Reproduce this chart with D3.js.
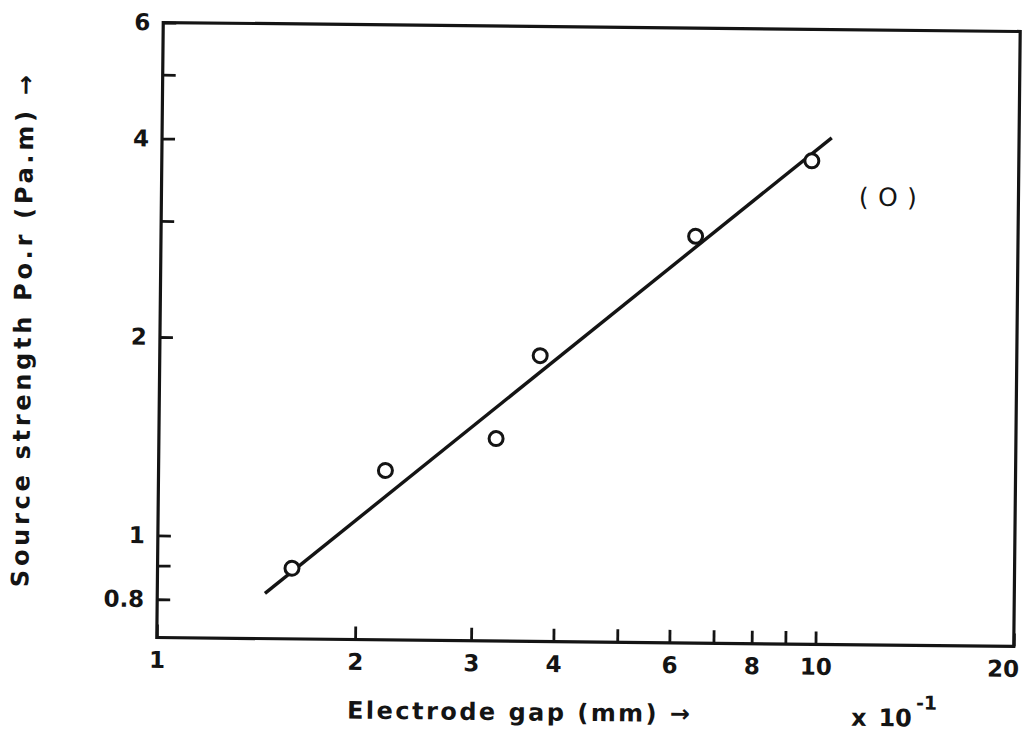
<!DOCTYPE html>
<html>
<head>
<meta charset="utf-8">
<script src="https://cdn.jsdelivr.net/npm/d3@7"></script>
<style>
  html, body { margin: 0; padding: 0; background: #fff; }
  text { font-family: "DejaVu Sans", sans-serif; font-weight: bold; fill: #141414; }
</style>
</head>
<body>
<svg id="chart" width="1028" height="735"></svg>
<script>
// measured points, electrode gap (x 10^-1 mm) vs source strength Po.r (Pa.m)
const gap = [1.60, 2.21, 3.25, 3.78, 6.48, 9.70];
const strength = [0.896, 1.265, 1.42, 1.90, 2.90, 3.79];

// fitted straight line (log-log), end points
const fitGap = [1.457, 10.39];
const fitStrength = [0.820, 4.11];

const xTicks = [1, 2, 3, 4, 5, 6, 7, 8, 9, 10, 20];
const xLabels = ['1', '2', '3', '4', '', '6', '', '8', '', '10', '20'];
const yTicks = [0.8, 0.9, 1, 2, 3, 4, 5, 6];
const yLabels = ['0.8', '', '1', '2', '', '4', '', '6'];

const ink = '#141414';
const margin = { top: 27, right: 11, bottom: 93, left: 160 };
const width = 1028;
const height = 735;
const innerWidth = width - margin.left - margin.right;
const innerHeight = height - margin.top - margin.bottom;

const svg = d3.select('#chart');
svg.append('rect').attr('width', width).attr('height', height).attr('fill', '#fff');

// the scanned figure is turned a little clockwise
const root = svg.append('g').attr('transform', 'rotate(0.6, 589, 335)');

const xScale = d3.scaleLog().domain([1, 20]).range([margin.left, margin.left + innerWidth]);
const yScale = d3.scaleLog().domain([0.7, 6]).range([margin.top + innerHeight, margin.top]);

const xAxis = root.append('g')
  .attr('class', 'axis axis--x')
  .attr('transform', `translate(0, ${margin.top + innerHeight})`)
  .call(d3.axisBottom(xScale)
    .tickValues(xTicks)
    .tickSizeInner(-13)
    .tickSizeOuter(0)
    .tickPadding(14)
    .tickFormat((d, i) => xLabels[i]));

const yAxis = root.append('g')
  .attr('class', 'axis axis--y')
  .attr('transform', `translate(${margin.left}, 0)`)
  .call(d3.axisLeft(yScale)
    .tickValues(yTicks)
    .tickSizeInner(-13)
    .tickSizeOuter(0)
    .tickPadding(13)
    .tickFormat((d, i) => yLabels[i]));

[xAxis, yAxis].forEach((ax) => {
  ax.select('.domain').remove();
  ax.selectAll('.tick line').attr('stroke', ink).attr('stroke-width', 2.8);
  ax.selectAll('.tick text')
    .attr('fill', ink)
    .style('font-size', '23px')
    .style('font-family', '"DejaVu Sans", sans-serif')
    .style('font-weight', 'bold');
});

// the last label sits left of its tick, inside the page
xAxis.selectAll('.tick text')
  .filter(d => d === 20)
  .attr('text-anchor', 'end')
  .attr('x', 5);

// frame
root.append('rect')
  .attr('x', margin.left)
  .attr('y', margin.top)
  .attr('width', innerWidth)
  .attr('height', innerHeight)
  .attr('fill', 'none')
  .attr('stroke', ink)
  .attr('stroke-width', 3.2);

// fit line
const fit = fitGap.map((g, i) => [g, fitStrength[i]]);
root.append('path')
  .datum(fit)
  .attr('fill', 'none')
  .attr('stroke', ink)
  .attr('stroke-width', 3.4)
  .attr('d', d3.line().x(d => xScale(d[0])).y(d => yScale(d[1])));

// points
root.selectAll('.pt')
  .data(gap.map((g, i) => [g, strength[i]]))
  .enter().append('circle')
    .attr('class', 'pt')
    .attr('cx', d => xScale(d[0]))
    .attr('cy', d => yScale(d[1]))
    .attr('r', 7)
    .attr('fill', '#fff')
    .attr('stroke', ink)
    .attr('stroke-width', 3);

// series marker label
root.append('text')
  .attr('x', xScale(12.67))
  .attr('y', yScale(3.35) + 9)
  .attr('text-anchor', 'middle')
  .attr('textLength', 58)
  .attr('lengthAdjust', 'spacing')
  .style('font-size', '25px')
  .style('font-weight', 'normal')
  .text('(O)');

// axis titles
root.append('text')
  .attr('x', 351)
  .attr('y', 721)
  .attr('textLength', 343)
  .attr('lengthAdjust', 'spacing')
  .style('font-size', '24px')
  .text('Electrode gap (mm)  →');

const mult = root.append('text')
  .attr('x', 855)
  .attr('y', 723)
  .style('font-size', '24px');
mult.append('tspan').text('x');
mult.append('tspan').attr('dx', 12).text('10');
mult.append('tspan')
  .attr('dx', 4)
  .attr('dy', -17)
  .style('font-size', '19px')
  .text('-1');

root.append('text')
  .attr('transform', 'translate(31, 337) rotate(-90)')
  .attr('text-anchor', 'middle')
  .attr('textLength', 512)
  .attr('lengthAdjust', 'spacing')
  .style('font-size', '24px')
  .text('Source strength Po.r (Pa.m)  →');
</script>
</body>
</html>
